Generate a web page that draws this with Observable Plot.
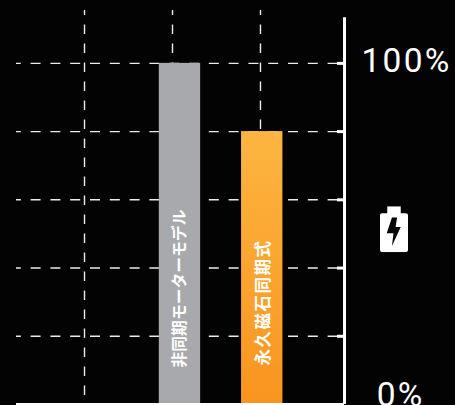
<!doctype html>
<html><head><meta charset="utf-8">
<script src="https://cdn.jsdelivr.net/npm/d3@7"></script>
<script src="https://cdn.jsdelivr.net/npm/@observablehq/plot@0.6"></script>
<style>html,body{margin:0;padding:0;background:#030303;overflow:hidden}svg{display:block}
.spaced text{letter-spacing:1.500px}
.pct text{letter-spacing:2.200px}
</style>
</head><body><div id="chart"></div>
<script>
const categories = ["非同期モーターモデル", "永久磁石同期式"];
const values = [100, 80];
const barCentres = [2.085, 3.02];
const gridX = [1, 2, 3];
const gridY = [20, 40, 60, 80, 100];
const barColours = ["#a7a9ac", "url(#orangeFade)"];

const halfBar = 0.235, xMin = 0.227, xMax = 3.955, yMax = 115.5, yAxisTop = 113.4;
const rows = categories.map((name, i) => ({name, value: values[i], centre: barCentres[i], colour: barColours[i]}));

const battery = "data:image/svg+xml," + encodeURIComponent(
  `<svg xmlns="http://www.w3.org/2000/svg" viewBox="0 0 27 45"><path fill="#fff" d="M7 0h13v7h5a2 2 0 0 1 2 2v34a2 2 0 0 1-2 2H2a2 2 0 0 1-2-2V9a2 2 0 0 1 2-2h5z"/><path fill="#050505" d="M11.500 11h5l-1.500 9.500h5L11.500 39l1.500-12.500H6.500z"/></svg>`);

const defs = () => {
  const s = d3.create("svg:defs");
  const g = s.append("linearGradient").attr("id", "orangeFade").attr("x1", 0).attr("x2", 0).attr("y1", 0).attr("y2", 1);
  g.append("stop").attr("offset", 0).attr("stop-color", "#fdb541");
  g.append("stop").attr("offset", 1).attr("stop-color", "#f8951f");
  return s.node();
};

const labelAxis = (value, dx, dy) => Plot.axisY({
  anchor: "right", ticks: [value], tickSize: 0, tickPadding: 0, label: null,
  tickFormat: d => d + "%", fontSize: 33.5, fontWeight: 400, fill: "#fff",
  textAnchor: "middle", dx, dy, className: "pct"
});

const plot = Plot.plot({
  width: 455, height: 405,
  marginTop: 10, marginBottom: 1, marginLeft: 16, marginRight: 111,
  style: {background: "#030303", fontFamily: "Roboto, sans-serif", color: "#fff"},
  x: {domain: [xMin, xMax], axis: null},
  y: {domain: [0, yMax], axis: null},
  marks: [
    defs,
    Plot.ruleX(gridX, {y1: yMax, y2: 0, stroke: "#ececec", strokeWidth: 1.4, strokeDasharray: "9.500,9.500", strokeDashoffset: 4.5}),
    Plot.ruleY(gridY, {x1: xMin, x2: xMax, stroke: "#ececec", strokeWidth: 1.4, strokeDasharray: "10,9.800", strokeDashoffset: 5.2}),
    Plot.rectY(rows, {x1: d => d.centre - halfBar, x2: d => d.centre + halfBar, y1: 0, y2: "value", fill: "colour"}),
    Plot.text([rows[0]], {x: "centre", y: 0, text: "name", rotate: -90, textAnchor: "start", dy: -37, fill: "#fff", fontSize: 15.8, fontWeight: 700, fontFamily: "'Noto Sans CJK JP'"}),
    Plot.text([rows[1]], {x: "centre", y: 0, text: "name", rotate: -90, textAnchor: "start", dy: -39, dx: 1, fill: "#fff", fontSize: 16.5, fontWeight: 700, fontFamily: "'Noto Sans CJK JP'", className: "spaced"}),
    Plot.ruleY(gridY, {x1: xMax - 0.08, x2: xMax, stroke: "#fff", strokeWidth: 3}),
    Plot.ruleX([xMax], {y1: 0, y2: yAxisTop, stroke: "#fff", strokeWidth: 3}),
    Plot.ruleY([0], {x1: xMin, x2: xMax, stroke: "#fff", strokeWidth: 3}),
    labelAxis(100, 62, -2),
    labelAxis(0, 56, -9),
    Plot.image([51.4], {x: () => xMax, y: d => d, src: () => battery, width: 28, height: 46, dx: 49.5, preserveAspectRatio: "none"})
  ]
});
document.getElementById("chart").append(plot);
</script></body></html>
